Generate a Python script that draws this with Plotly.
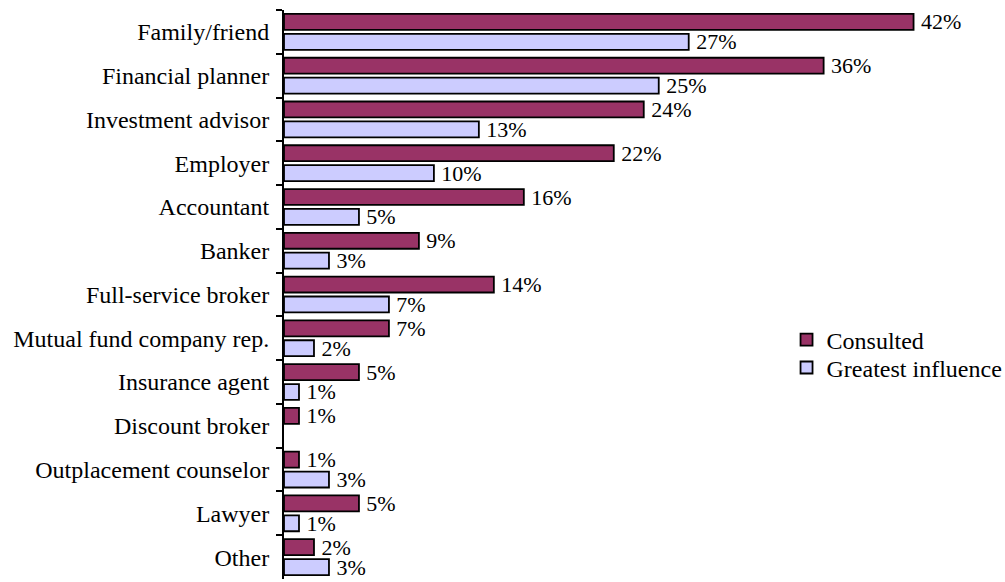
import plotly.graph_objects as go

categories = ["Family/friend", "Financial planner", "Investment advisor", "Employer",
              "Accountant", "Banker", "Full-service broker", "Mutual fund company rep.",
              "Insurance agent", "Discount broker", "Outplacement counselor", "Lawyer", "Other"]
consulted = [42, 36, 24, 22, 16, 9, 14, 7, 5, 1, 1, 5, 2]
greatest_influence = [27, 25, 13, 10, 5, 3, 7, 2, 1, None, 3, 1, 3]

FONT = "Liberation Serif, Times New Roman, serif"
FS = 24

fig = go.Figure()
fig.add_trace(go.Bar(
    name="Consulted", y=categories, x=consulted, orientation="h",
    marker=dict(color="#993366", line=dict(color="black", width=1.8)),
    texttemplate="\u2009%{x}%", textposition="outside", cliponaxis=False,
    constraintext="none", legend="legend",
    textfont=dict(family=FONT, size=22, color="black"),
))
fig.add_trace(go.Bar(
    name="Greatest influence", y=categories, x=greatest_influence, orientation="h",
    marker=dict(color="#CCCCFF", line=dict(color="black", width=1.8)),
    texttemplate="\u2009%{x}%", textposition="outside", cliponaxis=False,
    constraintext="none", legend="legend2",
    textfont=dict(family=FONT, size=22, color="black"),
))

legend_style = dict(xanchor="left", yanchor="middle",
                    font=dict(family=FONT, size=FS, color="black"),
                    itemwidth=30, bgcolor="rgba(0,0,0,0)")

fig.update_layout(
    width=1005, height=582,
    margin=dict(l=284, r=0, t=10, b=3, autoexpand=False),
    paper_bgcolor="white", plot_bgcolor="white",
    barmode="group", bargap=0.09, bargroupgap=0.2,
    font=dict(family=FONT, size=FS, color="black"),
    showlegend=True,
    legend=dict(x=0.697, y=0.42, **legend_style),
    legend2=dict(x=0.697, y=0.371, **legend_style),
    uniformtext=dict(mode=False),
)
fig.update_xaxes(range=[0, 48.1], visible=False, showgrid=False, zeroline=False)
fig.update_yaxes(
    categoryorder="array", categoryarray=categories, autorange="reversed",
    showline=True, linecolor="black", linewidth=2,
    ticks="outside", tickson="boundaries", ticklen=6, tickcolor="black", tickwidth=2,
    showgrid=False, ticklabelstandoff=8, automargin=False,
    tickfont=dict(family=FONT, size=FS, color="black"),
)

fig.write_html("out.html", config={"displayModeBar": False},
               post_script="document.body.style.margin='0';")
